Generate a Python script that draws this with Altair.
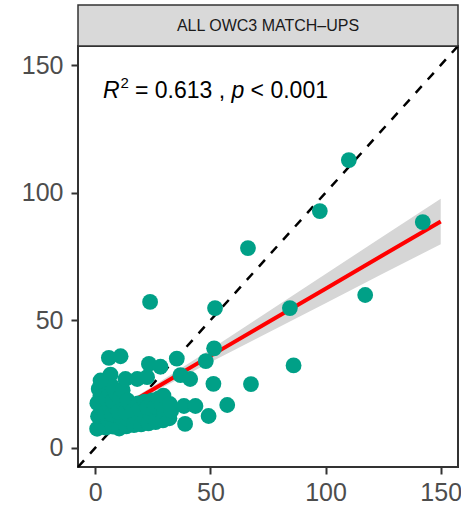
import altair as alt
import pandas as pd

# ---- data ----
obs_x = [0.8, 2.5, 1.2, 3.1, 0.9, 2.2, 1.5, 2.8, 4.6, 5.3, 4.1, 6.2, 4.8, 5.9, 4.4, 6.6,
         7.8, 8.5, 7.2, 9.1, 7.6, 8.9, 7.3, 10.4, 11.2, 10.1, 12.3, 10.8, 11.9,
         13.5, 14.2, 13.1, 15.6, 14.0, 13.1, 16.8, 17.5, 16.3, 18.6, 18.2,
         19.9, 20.7, 19.4, 21.5, 22.5, 23.1, 23.8, 22.6, 24.7,
         26.2, 26.9, 25.8, 27.6, 29.4, 30.1, 29.0, 29.6, 32.2, 33.0, 32.4,
         5.9, 11.0, 23.3, 28.3, 35.4, 2.3, 37.0, 41.2, 48.0, 51.6, 51.3, 67.6,
         38.5, 43.5, 57.3, 49.2, 39.0, 23.8, 52.0, 84.5, 86.1, 66.3, 97.5, 110.1,
         142.2, 117.2]
obs_y = [7.5, 9.8, 12.4, 14.8, 17.5, 20.3, 23.1, 25.9, 7.9, 11.2, 13.6, 16.4, 19.1, 22.4, 24.8, 28.7,
         8.3, 10.9, 13.1, 15.7, 18.2, 21.3, 24.1, 7.6, 11.8, 14.2, 17.0, 19.7, 22.6,
         8.4, 11.3, 13.9, 16.8, 18.6, 27.0, 8.9, 12.1, 14.7, 17.4, 27.0,
         9.2, 12.6, 15.2, 18.1, 27.7, 9.6, 13.2, 15.9, 18.6,
         10.1, 13.4, 16.2, 19.4, 10.8, 14.0, 16.9, 20.5, 11.6, 14.6, 17.2,
         35.3, 35.9, 32.9, 31.8, 35.0, 26.4, 28.5, 27.0, 34.0, 39.0, 25.1, 25.0,
         16.4, 16.4, 16.8, 12.5, 9.4, 57.2, 54.8, 54.8, 32.3, 78.3, 92.8, 112.8,
         88.5, 59.9]

fit_x = [0, 13, 25, 50, 75, 100, 125, 150]
fit_y = [9.7, 16.55, 22.9, 36.05, 49.2, 62.4, 75.6, 88.75]
fit_lo = [8.4, 15.65, 21.7, 33.55, 45.1, 56.7, 68.3, 79.85]
fit_hi = [11.0, 17.45, 24.1, 38.55, 53.3, 68.1, 82.9, 97.65]

ab_x = [-7.5, 157.5]
ab_y = [-7.5, 157.5]

tick_values = [0, 50, 100, 150]
strip_label = "ALL OWC3 MATCH\u2013UPS"
stat_r2 = "0.613"
stat_p = "0.001"

# ---- tables ----
pts = pd.DataFrame({"x": obs_x, "y": obs_y})
fit = pd.DataFrame({"x": fit_x, "fit": fit_y, "lo": fit_lo, "hi": fit_hi})
ab = pd.DataFrame({"x": ab_x, "y": ab_y})
one = pd.DataFrame({"label": [strip_label]})

FONT = "Liberation Sans"
dom = [-7.5, 157.5]
axis = alt.Axis(values=tick_values, labelFontSize=25, labelColor="#4D4D4D", labelFont=FONT,
                tickColor="#333333", tickSize=7, tickWidth=2, domain=False, grid=False,
                labelPadding=6, title=None)
yaxis = alt.Axis(values=tick_values, labelFontSize=25, labelColor="#4D4D4D", labelFont=FONT,
                 tickColor="#333333", tickSize=7, tickWidth=2, domain=False, grid=False,
                 labelPadding=8, title=None)
X = alt.X("x:Q", scale=alt.Scale(domain=dom, nice=False, zero=False), axis=axis)
Y = alt.Y("y:Q", scale=alt.Scale(domain=dom, nice=False, zero=False), axis=yaxis)

abline = alt.Chart(ab).mark_line(color="black", strokeWidth=2.5, strokeDash=[9, 9]).encode(x=X, y=Y)
band = alt.Chart(fit).mark_area(color="#D6D6D6", opacity=1).encode(x=X, y=alt.Y("lo:Q"), y2="hi:Q")
line = alt.Chart(fit).mark_line(color="#FF0000", strokeWidth=4).encode(x=X, y=alt.Y("fit:Q"))
points = alt.Chart(pts).mark_circle(size=250, color="#00A087", opacity=1).encode(x=X, y=Y)

strip = alt.Chart(one).mark_rect(fill="#D9D9D9", stroke="#333333", strokeWidth=1.5).encode(
    x=alt.value(0), x2=alt.value(380), y=alt.value(-41), y2=alt.value(0))
strip_text = alt.Chart(one).mark_text(font=FONT, fontSize=16, color="#1A1A1A").encode(
    x=alt.value(190), y=alt.value(-20), text="label:N")

def ann(txt, xpix, ypix, size=23, style="normal"):
    d = pd.DataFrame({"t": [txt]})
    return alt.Chart(d).mark_text(font=FONT, fontSize=size, fontStyle=style, align="left",
                                  baseline="alphabetic", color="black").encode(
        x=alt.value(xpix), y=alt.value(ypix), text="t:N")

a1 = ann("R", 25, 52, style="italic")
a2 = ann("2", 42.5, 42, size=15)
a3 = ann("= " + stat_r2 + " ,", 57, 52)
a4 = ann("p", 153.4, 52, style="italic")
a5 = ann("< " + stat_p, 172.6, 52)

chart = alt.layer(abline, band, line, points, strip, strip_text, a1, a2, a3, a4, a5).properties(
    width=380, height=421,
    autosize=alt.AutoSizeParams(type="none"),
    padding={"left": 78, "top": 46, "right": 3, "bottom": 42},
).configure_view(stroke="#333333", strokeWidth=2)

chart.save("out.html", embed_options={"renderer": "svg", "actions": False})
